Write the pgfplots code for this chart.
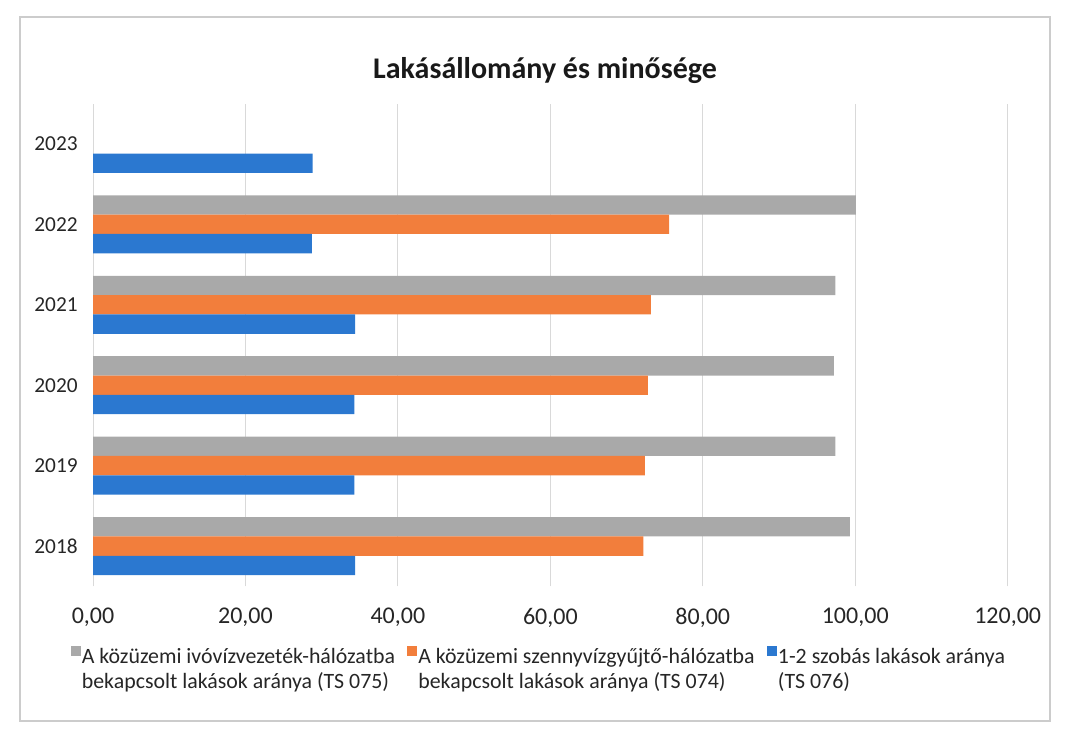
\documentclass[border=0pt]{standalone}
\usepackage{pgfplots}
\pgfplotsset{compat=1.18}
\usepackage{fontspec}
\setmainfont{Carlito}
\definecolor{cgray}{HTML}{A9A9A9}
\definecolor{corange}{HTML}{F27E3C}
\definecolor{cblue}{HTML}{2B78D0}
\begin{document}
\begin{tikzpicture}[x=0.75pt,y=0.75pt]
\useasboundingbox (0,0) rectangle (1067,737);
\draw[black!20, line width=0.8pt] (20,16) rectangle (1050,720);
\node[font=\fontsize{22.5}{27}\selectfont\bfseries, text=black!90] at (545,666) {Lakásállomány és minősége};
\begin{axis}[
  at={(69.75pt,113pt)}, anchor=south west,
  scale only axis, width=686pt, height=362pt,
  xmin=0, xmax=120, ymin=2017.5, ymax=2023.5,
  xtick={0,20,...,120}, ytick={2018,2019,2020,2021,2022,2023},
  yticklabels={2018,2019,2020,2021,2022,2023},
  xmajorgrids, major grid style={black!15, line width=0.7pt},
  axis line style={draw=none}, tick style={draw=none},
  ticklabel style={text=black!85},
  xticklabel style={font=\fontsize{18}{21}\selectfont, yshift=-13pt, /pgf/number format/.cd, fixed, fixed zerofill, precision=2, use comma, assume math mode=true},
  yticklabel style={font=\fontsize{16}{19}\selectfont, xshift=-8pt},
  legend columns=3,
  legend style={at={(0.487,-0.115)}, anchor=north, draw=none, fill=none,
    font=\fontsize{16.4}{18.5}\selectfont, text=black!85,
    /tikz/every even column/.append style={column sep=8pt},
    nodes={inner sep=1pt}},
  legend cell align=left,
  legend image code/.code={\fill[#1] (0pt,0pt) rectangle (7.5pt,7.5pt);},
]
\addplot[xbar, bar width=14.5pt, bar shift=14.5pt, fill=cgray, draw=none]
  coordinates {(99.3,2018) (97.4,2019) (97.2,2020) (97.4,2021) (100.1,2022)};
\addlegendentry{\begin{tabular}[t]{@{}l@{}}A közüzemi ivóvízvezeték-hálózatba\\ bekapcsolt lakások aránya (TS 075)\end{tabular}}
\addplot[xbar, bar width=14.5pt, bar shift=0pt, fill=corange, draw=none]
  coordinates {(72.2,2018) (72.4,2019) (72.8,2020) (73.2,2021) (75.6,2022)};
\addlegendentry{\begin{tabular}[t]{@{}l@{}}A közüzemi szennyvízgyűjtő-hálózatba\\ bekapcsolt lakások aránya (TS 074)\end{tabular}}
\addplot[xbar, bar width=14.5pt, bar shift=-14.5pt, fill=cblue, draw=none]
  coordinates {(34.4,2018) (34.3,2019) (34.3,2020) (34.4,2021) (28.7,2022) (28.8,2023)};
\addlegendentry{\begin{tabular}[t]{@{}l@{}}1-2 szobás lakások aránya\\ (TS 076)\end{tabular}}
\end{axis}
\end{tikzpicture}
\end{document}
